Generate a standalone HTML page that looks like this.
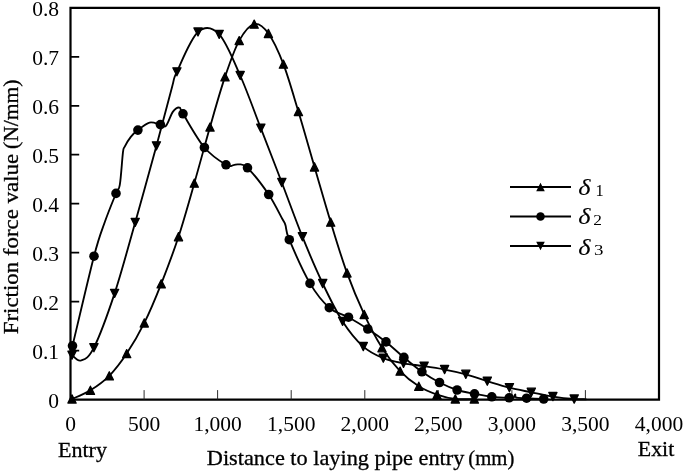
<!DOCTYPE html>
<html><head><meta charset="utf-8"><style>
html,body{margin:0;padding:0;background:#fff;}
svg{display:block;filter:blur(0.3px);}
text{font-family:"Liberation Serif",serif;fill:#000;}
</style></head><body>
<svg width="685" height="472" viewBox="0 0 685 472">
<rect width="685" height="472" fill="#fff"/>
<path d="M70.5,399.6V7.8H659.0V399.6Z" fill="none" stroke="#000" stroke-width="2.2"/>
<path d="M144.1,399.6V390.1M217.6,399.6V390.1M291.2,399.6V390.1M364.8,399.6V390.1M438.3,399.6V390.1M511.9,399.6V390.1M585.4,399.6V390.1" fill="none" stroke="#222" stroke-width="0.95"/>
<path d="M70.5,350.6H79.2M70.5,301.7H79.2M70.5,252.7H79.2M70.5,203.7H79.2M70.5,154.7H79.2M70.5,105.8H79.2M70.5,56.8H79.2" fill="none" stroke="#000" stroke-width="1.7"/>
<g fill="none" stroke="#000" stroke-width="1.85"><path d="M72.0,399.0 C75.1,397.6 84.2,394.2 90.4,390.3 C96.6,386.4 103.2,381.9 109.3,375.8 C115.3,369.7 120.9,362.4 126.7,353.6 C132.5,344.8 138.6,334.5 144.3,322.9 C150.1,311.3 155.5,298.2 161.2,283.8 C166.9,269.4 173.0,253.5 178.5,236.7 C184.0,219.9 189.1,201.5 194.3,183.2 C199.6,164.9 204.9,144.7 210.0,127.0 C215.1,109.3 220.1,91.3 225.0,76.9 C229.9,62.5 234.3,49.4 239.2,40.6 C244.1,31.8 249.3,25.3 254.2,24.1 C259.1,22.9 263.5,26.8 268.4,33.5 C273.3,40.2 278.4,51.2 283.4,64.2 C288.4,77.2 293.2,94.5 298.4,111.6 C303.6,128.7 309.1,148.5 314.5,166.9 C319.9,185.3 325.3,204.4 330.7,222.1 C336.1,239.8 341.4,257.5 347.0,272.9 C352.6,288.3 358.4,301.9 364.2,314.4 C370.0,326.9 376.0,338.3 382.0,347.7 C388.0,357.2 394.0,364.7 400.1,371.1 C406.2,377.5 412.7,382.4 418.8,386.3 C424.9,390.2 430.9,392.5 437.0,394.6 C443.1,396.7 449.1,398.3 455.3,399.0 C461.5,399.7 471.1,399.0 474.3,399.0"/><path d="M72.5,345.8 C76.1,330.9 88.6,276.9 94.0,256.2 C99.4,235.5 101.2,232.3 104.9,221.8 C108.6,211.3 113.5,199.6 116.0,193.4 C118.5,187.2 118.6,191.7 119.8,184.9 C121.0,178.1 122.1,159.2 122.9,152.8 C123.7,146.5 123.3,149.5 124.6,146.8 C125.9,144.2 128.6,139.7 130.8,136.9 C133.0,134.1 134.8,132.5 137.9,130.1 C141.0,127.7 145.8,123.5 149.5,122.6 C153.2,121.7 157.7,124.1 160.4,124.6 C163.2,125.1 163.9,127.9 166.0,125.8 C168.1,123.7 170.6,114.9 172.8,111.9 C175.0,108.9 177.6,107.3 179.3,107.6 C181.0,107.9 178.8,107.1 183.0,113.8 C187.2,120.5 197.2,139.0 204.4,147.5 C211.6,156.0 221.2,161.9 226.0,164.8 C230.8,167.8 231.4,165.3 233.5,165.2 C235.6,165.1 236.2,164.0 238.5,164.4 C240.8,164.8 242.5,162.8 247.5,167.8 C252.5,172.8 262.9,185.9 268.7,194.5 C274.5,203.1 279.7,214.2 282.5,219.3 C285.3,224.4 284.4,221.9 285.5,225.3 C286.6,228.7 285.2,230.0 289.3,239.7 C293.4,249.4 303.3,272.1 310.0,283.4 C316.7,294.7 322.9,302.1 329.3,307.7 C335.7,313.3 342.1,313.6 348.5,317.2 C354.9,320.8 361.6,324.9 367.8,329.0 C374.1,333.1 380.0,337.2 386.0,341.9 C392.0,346.6 397.9,352.4 403.9,357.4 C409.9,362.4 416.0,367.6 421.9,371.8 C427.8,376.0 433.6,379.5 439.5,382.5 C445.4,385.5 451.3,388.1 457.1,390.0 C462.9,391.9 468.7,392.7 474.5,393.8 C480.3,394.9 486.0,396.1 491.8,396.8 C497.6,397.5 505.6,397.7 509.2,397.8 C512.8,397.9 512.6,398.1 513.6,397.5 C514.6,396.9 514.7,394.3 515.2,394.3 C515.7,394.3 514.5,397.1 516.4,397.7 C518.3,398.3 522.0,398.0 526.6,398.2 C531.2,398.4 540.9,398.9 543.7,399.0"/><path d="M72.0,355.2 C73.5,356.1 77.3,361.8 81.0,360.5 C84.7,359.2 88.3,358.9 93.9,347.7 C99.5,336.5 107.7,314.3 114.6,293.4 C121.5,272.5 128.2,247.0 135.2,222.4 C142.2,197.8 150.3,168.4 156.4,145.9 C162.5,123.4 168.6,99.5 172.0,87.2 C175.4,74.9 172.6,81.0 176.9,71.8 C181.2,62.6 190.9,38.2 198.0,32.0 C205.1,25.8 212.2,27.1 219.2,34.3 C226.2,41.6 233.3,59.9 240.2,75.5 C247.1,91.1 253.9,110.4 260.8,128.2 C267.7,146.0 274.9,164.4 281.8,182.5 C288.7,200.6 295.6,219.9 302.4,236.7 C309.2,253.5 316.0,269.4 322.7,283.5 C329.4,297.6 335.8,310.9 342.6,321.4 C349.4,331.9 356.5,340.5 363.3,346.6 C370.1,352.7 376.6,355.4 383.3,358.2 C390.0,361.0 396.7,362.0 403.5,363.3 C410.3,364.6 417.2,365.1 424.1,366.2 C431.0,367.2 437.7,368.2 444.6,369.6 C451.6,370.9 458.7,372.4 465.8,374.3 C472.9,376.2 480.0,379.0 487.3,381.2 C494.6,383.4 502.1,385.8 509.4,387.7 C516.7,389.6 524.0,390.8 531.3,392.3 C538.5,393.8 545.8,395.5 552.9,396.6 C560.0,397.7 568.6,398.6 574.2,399.0 C579.8,399.4 584.5,399.2 586.5,399.3"/></g>
<path d="M72.0,394.9L76.1,403.1L67.9,403.1ZM90.4,386.2L94.5,394.4L86.3,394.4ZM109.3,371.8L113.4,379.9L105.2,379.9ZM126.7,349.6L130.8,357.7L122.6,357.7ZM144.3,318.9L148.4,327.0L140.2,327.0ZM161.2,279.8L165.3,287.9L157.1,287.9ZM178.5,232.6L182.6,240.8L174.4,240.8ZM194.3,179.1L198.4,187.2L190.2,187.2ZM210.0,123.0L214.1,131.1L205.9,131.1ZM225.0,72.8L229.1,80.9L220.9,80.9ZM239.2,36.6L243.3,44.6L235.1,44.6ZM254.2,20.1L258.3,28.2L250.1,28.2ZM268.4,29.4L272.5,37.5L264.3,37.5ZM283.4,60.1L287.5,68.2L279.3,68.2ZM298.4,107.5L302.5,115.6L294.3,115.6ZM314.5,162.8L318.6,171.0L310.4,171.0ZM330.7,218.0L334.8,226.2L326.6,226.2ZM347.0,268.9L351.1,277.0L342.9,277.0ZM364.2,310.4L368.3,318.5L360.1,318.5ZM382.0,343.7L386.1,351.8L377.9,351.8ZM400.1,367.1L404.2,375.2L396.0,375.2ZM418.8,382.2L422.9,390.4L414.7,390.4ZM437.0,390.6L441.1,398.7L432.9,398.7ZM455.3,394.9L459.4,403.1L451.2,403.1ZM474.3,394.9L478.4,403.1L470.2,403.1Z" fill="#000" stroke="#000" stroke-width="1.3" stroke-linejoin="round"/>
<path d="M72.0,359.2L76.1,351.1L67.9,351.1ZM93.9,351.8L98.0,343.6L89.8,343.6ZM114.6,297.4L118.7,289.3L110.5,289.3ZM135.2,226.4L139.3,218.3L131.1,218.3ZM156.4,149.9L160.5,141.8L152.3,141.8ZM176.9,75.8L181.0,67.8L172.8,67.8ZM198.0,36.0L202.1,27.9L193.9,27.9ZM219.2,38.4L223.3,30.3L215.1,30.3ZM240.2,79.5L244.3,71.5L236.1,71.5ZM260.8,132.2L264.9,124.1L256.7,124.1ZM281.8,186.6L285.9,178.4L277.7,178.4ZM302.4,240.8L306.5,232.6L298.3,232.6ZM322.7,287.6L326.8,279.4L318.6,279.4ZM342.6,325.4L346.7,317.3L338.5,317.3ZM363.3,350.6L367.4,342.5L359.2,342.5ZM383.3,362.2L387.4,354.1L379.2,354.1ZM403.5,367.4L407.6,359.2L399.4,359.2ZM424.1,370.2L428.2,362.1L420.0,362.1ZM444.6,373.6L448.7,365.5L440.5,365.5ZM465.8,378.4L469.9,370.2L461.7,370.2ZM487.3,385.2L491.4,377.1L483.2,377.1ZM509.4,391.8L513.5,383.6L505.3,383.6ZM531.3,396.4L535.4,388.2L527.2,388.2ZM552.9,400.6L557.0,392.5L548.8,392.5ZM574.2,403.1L578.3,394.9L570.1,394.9Z" fill="#000" stroke="#000" stroke-width="1.3" stroke-linejoin="round"/>
<g fill="#000"><circle cx="72.5" cy="345.8" r="4.8"/><circle cx="94.0" cy="256.2" r="4.8"/><circle cx="116.0" cy="193.4" r="4.8"/><circle cx="137.9" cy="130.1" r="4.8"/><circle cx="160.4" cy="124.6" r="4.8"/><circle cx="183.0" cy="113.8" r="4.8"/><circle cx="204.4" cy="147.5" r="4.8"/><circle cx="226.0" cy="164.8" r="4.8"/><circle cx="247.5" cy="167.8" r="4.8"/><circle cx="268.7" cy="194.5" r="4.8"/><circle cx="289.3" cy="239.7" r="4.8"/><circle cx="310.0" cy="283.4" r="4.8"/><circle cx="329.3" cy="307.7" r="4.8"/><circle cx="348.5" cy="317.2" r="4.8"/><circle cx="367.8" cy="329.0" r="4.8"/><circle cx="386.0" cy="341.9" r="4.8"/><circle cx="403.9" cy="357.4" r="4.8"/><circle cx="421.9" cy="371.8" r="4.8"/><circle cx="439.5" cy="382.5" r="4.8"/><circle cx="457.1" cy="390.0" r="4.8"/><circle cx="474.5" cy="393.8" r="4.8"/><circle cx="491.8" cy="396.8" r="4.8"/><circle cx="509.2" cy="397.8" r="4.8"/><circle cx="526.6" cy="398.2" r="4.8"/><circle cx="543.7" cy="399.0" r="4.8"/></g>
<g font-size="21.5"><text x="59" y="408.0" text-anchor="end">0</text><text x="59" y="359.0" text-anchor="end">0.1</text><text x="59" y="310.1" text-anchor="end">0.2</text><text x="59" y="261.1" text-anchor="end">0.3</text><text x="59" y="212.1" text-anchor="end">0.4</text><text x="59" y="163.1" text-anchor="end">0.5</text><text x="59" y="114.2" text-anchor="end">0.6</text><text x="59" y="65.2" text-anchor="end">0.7</text><text x="59" y="16.2" text-anchor="end">0.8</text><text x="70.5" y="430.5" text-anchor="middle">0</text><text x="144.1" y="430.5" text-anchor="middle">500</text><text x="217.6" y="430.5" text-anchor="middle">1,000</text><text x="291.2" y="430.5" text-anchor="middle">1,500</text><text x="364.8" y="430.5" text-anchor="middle">2,000</text><text x="438.3" y="430.5" text-anchor="middle">2,500</text><text x="511.9" y="430.5" text-anchor="middle">3,000</text><text x="585.4" y="430.5" text-anchor="middle">3,500</text><text x="659.0" y="430.5" text-anchor="middle">4,000</text></g>
<g font-size="21.5" stroke="#000" stroke-width="0.3">
<text x="58" y="456.9" textLength="49" lengthAdjust="spacingAndGlyphs">Entry</text>
<text x="637.8" y="456.4" textLength="36.5" lengthAdjust="spacingAndGlyphs">Exit</text>
<text x="206.8" y="464.6" textLength="257.5" lengthAdjust="spacingAndGlyphs">Distance to laying pipe entry</text>
<text x="468.3" y="464.6" textLength="46" lengthAdjust="spacingAndGlyphs">(mm)</text>
<text transform="translate(17.6,334.3) rotate(-90)" textLength="180.5" lengthAdjust="spacingAndGlyphs">Friction force value</text>
<text transform="translate(17.6,149) rotate(-90)" textLength="69.5" lengthAdjust="spacingAndGlyphs">(N/mm)</text>
</g>
<g stroke="#000" stroke-width="2" fill="none">
<path d="M510,187H571M510,216.5H571M510,246H571"/>
</g>
<path d="M540.5,182.8L544.8,191.2L536.2,191.2ZM540.5,250.2L544.8,241.8L536.2,241.8Z" fill="#000"/>
<circle cx="540.5" cy="216.5" r="4.3" fill="#000"/>
<g font-size="22.5" font-style="italic" stroke="#000" stroke-width="0.1">
<text transform="translate(578.3,194.6) scale(1.17,1)">δ</text>
<text transform="translate(578.3,223.8) scale(1.17,1)">δ</text>
<text transform="translate(578.3,254.8) scale(1.17,1)">δ</text>
</g>
<text transform="translate(595.4,195.6) scale(0.98,1)" font-size="16.8">1</text>
<text transform="translate(593.2,224.6) scale(1.12,1)" font-size="15.5">2</text>
<text transform="translate(594.0,254.8) scale(1.22,1)" font-size="15.5">3</text>
</svg>
</body></html>
